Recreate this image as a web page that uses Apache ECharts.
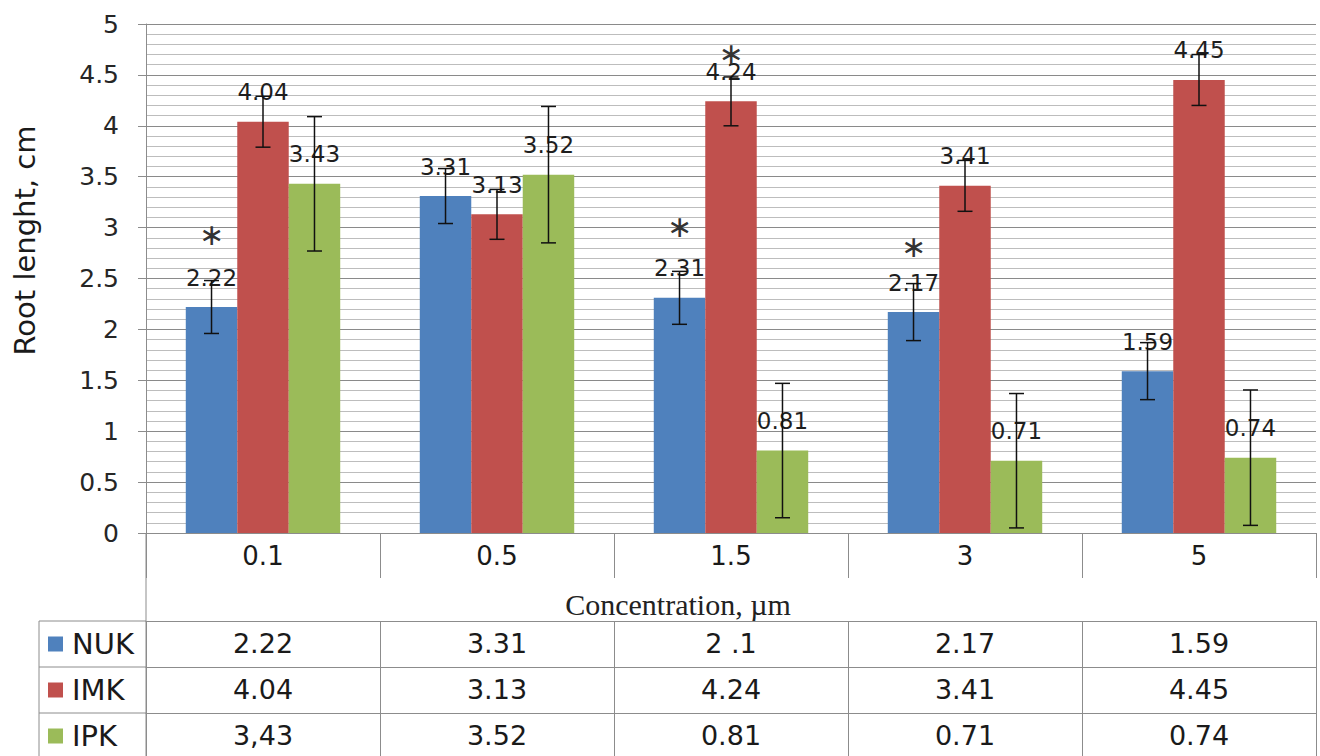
<!DOCTYPE html>
<html>
<head>
<meta charset="utf-8">
<script src="https://cdn.jsdelivr.net/npm/echarts@6/dist/echarts.min.js"></script>
<style>
  html, body { margin: 0; padding: 0; background: #ffffff; }
  #chart { width: 1320px; height: 756px; }
</style>
</head>
<body>
<div id="chart"></div>
<script>
// Concentrations on the category axis
const concentrations = ['0.1', '0.5', '1.5', '3', '5'];
const seriesNames = ['NUK', 'IMK', 'IPK'];

// Mean root length, cm
const nukValues = [2.22, 3.31, 2.31, 2.17, 1.59];
const imkValues = [4.04, 3.13, 4.24, 3.41, 4.45];
const ipkValues = [3.43, 3.52, 0.81, 0.71, 0.74];

// Error bar half-widths
const nukErrors = [0.26, 0.27, 0.26, 0.28, 0.28];
const imkErrors = [0.25, 0.245, 0.24, 0.25, 0.25];
const ipkErrors = [0.66, 0.67, 0.66, 0.66, 0.665];

// Data table rows as printed under the chart
const nukTable = ['2.22', '3.31', '2 .1', '2.17', '1.59'];
const imkTable = ['4.04', '3.13', '4.24', '3.41', '4.45'];
const ipkTable = ['3,43', '3.52', '0.81', '0.71', '0.74'];

// Significance marks: [category index, height on the value axis]
const nukStars = [[0, 2.93], [2, 3.01], [3, 2.81]];
const imkStars = [[2, 4.715]];
const ipkStars = [];

const colors = ['#4F81BD', '#C0504D', '#9BBB59'];

// Layout
const W = 1320, H = 756;
const GRID_LEFT = 146, GRID_RIGHT = 4, GRID_TOP = 24, GRID_BOTTOM = 223;
const CAT_GAP = 0.34;
const ROW_OFFSETS = [88, 134, 180];
const TABLE_LEFT = 39;
const AXIS_GRAY = '#8c8c8c';
const SANS = 'DejaVu Sans';

function barSeries(name, values, color, stars) {
  const s = {
    name: name,
    type: 'bar',
    data: values,
    barGap: '0%',
    barCategoryGap: (CAT_GAP * 100) + '%',
    itemStyle: { color: color },
    label: {
      show: true,
      position: 'top',
      distance: 18,
      fontFamily: SANS,
      fontSize: 23,
      color: '#1e1e1e',
      formatter: p => p.value.toFixed(2)
    },
    z: 2
  };
  if (stars.length) {
    s.markPoint = {
      symbol: 'circle',
      symbolSize: 1,
      itemStyle: { color: 'rgba(0,0,0,0)' },
      label: {
        show: true,
        position: 'inside',
        formatter: '\u2217',
        fontFamily: SANS,
        fontSize: 30,
        color: '#333333'
      },
      data: stars.map(c => ({ coord: c }))
    };
  }
  return s;
}

function errorSeries(values, errors, seriesIndex) {
  return {
    type: 'custom',
    z: 3,
    silent: true,
    data: values.map((v, i) => [i, v - errors[i], v + errors[i]]),
    encode: { x: 0, y: [1, 2] },
    renderItem: function (params, api) {
      const cat = api.value(0);
      const lo = api.coord([cat, api.value(1)]);
      const hi = api.coord([cat, api.value(2)]);
      const band = api.size([1, 0])[0];
      const group = band * (1 - CAT_GAP);
      const barW = group / 3;
      const x = lo[0] - group / 2 + barW * (seriesIndex + 0.5);
      const cap = 7.5;
      const style = { stroke: '#111111', lineWidth: 1.5, fill: null };
      return {
        type: 'group',
        children: [
          { type: 'line', shape: { x1: x, y1: lo[1], x2: x, y2: hi[1] }, style: style },
          { type: 'line', shape: { x1: x - cap, y1: lo[1], x2: x + cap, y2: lo[1] }, style: style },
          { type: 'line', shape: { x1: x - cap, y1: hi[1], x2: x + cap, y2: hi[1] }, style: style }
        ]
      };
    }
  };
}

function rowAxis(rowText, offset) {
  return {
    type: 'category',
    data: concentrations,
    position: 'bottom',
    offset: offset,
    axisLine: { show: true, lineStyle: { color: AXIS_GRAY, width: 1 } },
    axisTick: { show: true, length: 46, lineStyle: { color: AXIS_GRAY } },
    axisLabel: {
      fontFamily: SANS, fontSize: 27, color: '#1a1a1a', margin: 9,
      formatter: (v, i) => rowText[i]
    },
    splitLine: { show: false }
  };
}

const plotBottom = H - GRID_BOTTOM;
const tableLines = [];
// left column of the data table
ROW_OFFSETS.forEach(off => {
  tableLines.push({ x1: TABLE_LEFT, y1: plotBottom + off, x2: GRID_LEFT, y2: plotBottom + off });
});
tableLines.push({ x1: TABLE_LEFT, y1: plotBottom + ROW_OFFSETS[0], x2: TABLE_LEFT, y2: H });
tableLines.push({ x1: GRID_LEFT, y1: plotBottom, x2: GRID_LEFT, y2: H });

const chart = echarts.init(document.getElementById('chart'), null, { renderer: 'svg' });
chart.setOption({
  animation: false,
  backgroundColor: '#ffffff',
  color: colors,
  grid: { left: GRID_LEFT, right: GRID_RIGHT, top: GRID_TOP, bottom: GRID_BOTTOM, containLabel: false },
  legend: {
    orient: 'vertical',
    left: 48,
    top: plotBottom + ROW_OFFSETS[0] + 8,
    padding: 0,
    itemWidth: 15,
    itemHeight: 15,
    itemGap: 16,
    icon: 'rect',
    selectedMode: false,
    data: seriesNames,
    textStyle: { fontFamily: SANS, fontSize: 29, lineHeight: 30, color: '#1a1a1a', padding: [0, 0, 0, 4] }
  },
  xAxis: [
    {
      type: 'category',
      data: concentrations,
      position: 'bottom',
      axisLine: { show: true, lineStyle: { color: AXIS_GRAY, width: 1 } },
      axisTick: { show: true, length: 45, lineStyle: { color: AXIS_GRAY } },
      axisLabel: { fontFamily: SANS, fontSize: 26, color: '#1a1a1a', margin: 10 },
      name: 'Concentration, \u00b5m',
      nameLocation: 'middle',
      nameGap: 56,
      nameTextStyle: { fontFamily: 'Liberation Serif', fontSize: 30, color: '#222222', padding: [0, 106, 0, 0] }
    },
    rowAxis(nukTable, ROW_OFFSETS[0]),
    rowAxis(imkTable, ROW_OFFSETS[1]),
    rowAxis(ipkTable, ROW_OFFSETS[2])
  ],
  yAxis: {
    type: 'value',
    min: 0,
    max: 5,
    interval: 0.5,
    axisLine: { show: true, lineStyle: { color: AXIS_GRAY } },
    axisTick: { show: true, length: 8, lineStyle: { color: AXIS_GRAY } },
    axisLabel: { fontFamily: SANS, fontSize: 25, color: '#262626', margin: 27 },
    splitLine: { show: true, lineStyle: { color: '#8a8a8a', width: 1 } },
    minorTick: { show: false, splitNumber: 5 },
    minorSplitLine: { show: true, lineStyle: { color: '#bdbdbd', width: 1 } },
    name: 'Root lenght, cm',
    nameLocation: 'middle',
    nameGap: 107,
    nameTextStyle: { fontFamily: SANS, fontSize: 29, color: '#1a1a1a', padding: [0, 0, 0, 76] }
  },
  graphic: tableLines.map(l => ({
    type: 'line',
    silent: true,
    shape: l,
    style: { stroke: AXIS_GRAY, lineWidth: 1 }
  })),
  series: [
    barSeries(seriesNames[0], nukValues, colors[0], nukStars),
    barSeries(seriesNames[1], imkValues, colors[1], imkStars),
    barSeries(seriesNames[2], ipkValues, colors[2], ipkStars),
    errorSeries(nukValues, nukErrors, 0),
    errorSeries(imkValues, imkErrors, 1),
    errorSeries(ipkValues, ipkErrors, 2)
  ]
});
</script>
</body>
</html>
